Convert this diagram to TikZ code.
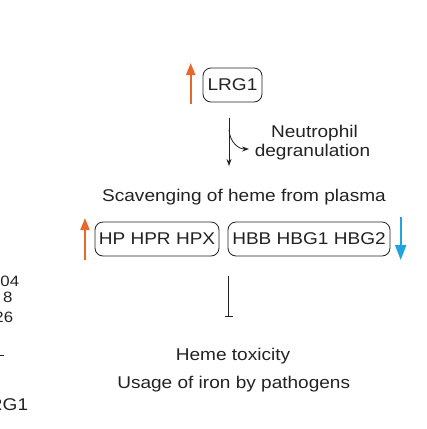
\documentclass[tikz,border=0pt]{standalone}
\usepackage{fontspec}
\setmainfont[FakeStretch=1.12]{Liberation Sans}
\usetikzlibrary{arrows.meta}
\definecolor{myorange}{HTML}{E8682C}
\definecolor{myblue}{HTML}{1FA4E0}
\definecolor{ink}{HTML}{222222}
\begin{document}
\begin{tikzpicture}[x=1bp,y=-1bp,
  txt/.style={font=\fontsize{17bp}{19bp}\selectfont, text=ink, inner sep=0pt, anchor=base},
  frag/.style={font=\fontsize{15bp}{17bp}\selectfont, text=ink, inner sep=0pt, anchor=base east},
  gene/.style={draw=ink, line width=0.8bp, rounded corners=8bp, minimum height=34bp, inner xsep=1bp, inner ysep=0pt, font=\fontsize{17bp}{19bp}\selectfont, text=ink},
  upreg/.style={draw=myorange, line width=2bp, -{Triangle[length=12bp,width=9bp,fill=myorange]}},
  downreg/.style={draw=myblue, line width=2bp, -{Triangle[length=15bp,width=11bp,fill=myblue]}},
  flow/.style={draw=ink, line width=0.8bp, -{Stealth[length=7bp,width=5bp]}},
  inhib/.style={draw=ink, line width=0.8bp, -{Bar[width=8bp]}}]
\useasboundingbox (0,0) rectangle (427,429);

% gene boxes
\node[gene, minimum width=59bp] (lrg) at (232.5,85) {LRG1};
\node[gene, minimum width=124bp] (hp) at (157,239) {HP HPR HPX};
\node[gene, minimum width=162bp] (hbb) at (309,239) {HBB HBG1 HBG2};

% texts
\node[txt] (neu) at (314.5,137.3) {Neutrophil};
\node[txt] (deg) at (312.5,156) {degranulation};
\node[txt] (scav) at (244,201.7) {Scavenging of heme from plasma};
\node[txt] (tox) at (233,360) {Heme toxicity};
\node[txt] (iron) at (233.7,388.3) {Usage of iron by pathogens};

% cropped fragments at left edge
\node[frag] (f1) at (19.3,286) {04};
\node[frag] (f2) at (12.7,302.7) {8};
\node[frag] (f3) at (13.3,322) {26};
\node[txt, anchor=base east] (f4) at (28.3,410) {LRG1};
\draw[ink, line width=0.8bp] (-5,355.7) -- (4.3,355.7);

% regulation arrows
\coordinate (o1s) at (190.7,104);
\coordinate (o1e) at (190.7,63);
\draw[upreg] (o1s) -- (o1e);
\coordinate (o2s) at (85,260);
\coordinate (o2e) at (85,218);
\draw[upreg] (o2s) -- (o2e);
\coordinate (b1s) at (400.7,217);
\coordinate (b1e) at (400.7,260);
\draw[downreg] (b1s) -- (b1e);

% flow arrows
\coordinate (a1) at (229,118);
\coordinate (a2) at (229,166);
\coordinate (a3) at (229,130);
\coordinate (a4) at (249,149);
\draw[flow] (a1) -- (a2);
\draw[flow] (a3) .. controls (230,142) and (238,149) .. (a4);

% inhibition
\coordinate (i1) at (228.7,276);
\coordinate (i2) at (228.7,317);
\draw[inhib] (i1) -- (i2);
\end{tikzpicture}
\end{document}
